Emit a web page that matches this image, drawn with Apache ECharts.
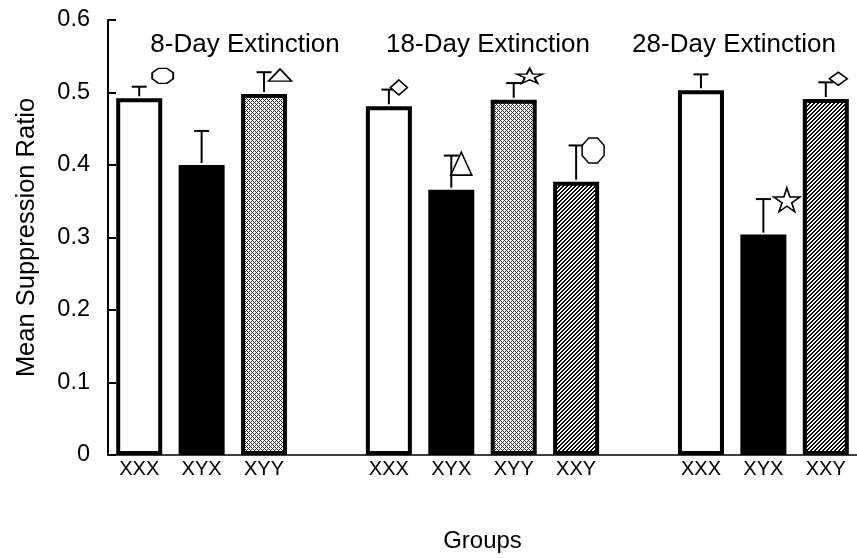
<!DOCTYPE html>
<html>
<head>
<meta charset="utf-8">
<script src="https://cdn.jsdelivr.net/npm/echarts@6/dist/echarts.min.js"></script>
<style>
html,body{margin:0;padding:0;background:#fff;}
#chart{width:857px;height:558px;}
</style>
</head>
<body>
<div id="chart"></div>
<script>
// ---- data ----
var categories = ['XXX','XYX','XYY','','XXX','XYX','XYY','XXY','','XXX','XYX','XXY'];
var means      = [0.492,0.400,0.498,null,0.481,0.366,0.490,0.377,null,0.503,0.304,0.491];
var errors     = [0.016,0.047,0.030,null,0.023,0.047,0.023,0.050,null,0.022,0.049,0.023];
var yTicks     = [0,0.1,0.2,0.3,0.4,0.5,0.6];
var groupTitles = ['8-Day Extinction','18-Day Extinction','28-Day Extinction'];
var markerSlots  = [0,2,4,5,6,7,10,11];
var markerValues = [0.523,0.524,0.507,0.402,0.523,0.420,0.352,0.519];
var markerShapes = ['octagon','triangle','diamond','triangle','star','octagon','star','diamond'];

// ---- styling ----
var FONT = '"Liberation Sans", Arial, Helvetica, sans-serif';
var markerLayout = [ // [dx, w, h]
  [23.5,21,15],[16,23,12],[10,17,15],[10,21,23],[16,26,15],[17,22,25],[23.5,26,24],[12.5,18,13]
];
var shapePaths = {
  octagon: 'path://M30,0 L70,0 L100,30 L100,70 L70,100 L30,100 L0,70 L0,30 Z',
  triangle: 'path://M50,0 L100,100 L0,100 Z',
  diamond: 'path://M50,0 L100,50 L50,100 L0,50 Z',
  star: 'path://M50,0 L61,35 L98,35 L68,57 L79,91 L50,70 L21,91 L32,57 L2,35 L39,35 Z'
};

function pixelPattern(size, isInk, ink){
  var c = document.createElement('canvas'); c.width = size; c.height = size;
  var g = c.getContext('2d');
  var img = g.createImageData(size, size);
  for (var y = 0; y < size; y++) for (var x = 0; x < size; x++) {
    var o = (y * size + x) * 4;
    var v = isInk(x, y) ? ink : 255;
    img.data[o] = v; img.data[o+1] = v; img.data[o+2] = v; img.data[o+3] = 255;
  }
  g.putImageData(img, 0, 0);
  return c;
}
var crossImg = pixelPattern(4, function(x, y){ return (x + y) % 4 === 0 || (x - y + 4) % 4 === 0; }, 40);
var stripeImg = pixelPattern(4, function(x, y){ var m = (x + y) % 4; return m === 0 || m === 1; }, 0);

var fills = {
  'XXX': '#ffffff',
  'XYX': '#000000',
  'XYY': {image: crossImg, repeat: 'repeat'},
  'XXY': {image: stripeImg, repeat: 'repeat'}
};

var barData = means.map(function(v, i){
  if (v === null) return '-';
  return {value: v, itemStyle: {color: fills[categories[i]], borderColor: '#000', borderWidth: 4}};
});
var errData = [];
means.forEach(function(v, i){ if (v !== null) errData.push([i, v, v + errors[i]]); });
var markerData = markerSlots.map(function(s, k){
  var L = markerLayout[k];
  return {value: [s, markerValues[k]], symbol: shapePaths[markerShapes[k]], symbolSize: [L[1], L[2]], symbolOffset: [L[0], 0]};
});

var chart = echarts.init(document.getElementById('chart'), null, {renderer: 'canvas'});
chart.setOption({
  backgroundColor: '#fff',
  animation: false,
  grid: {left: 108, top: 20, width: 750, height: 435},
  xAxis: {
    type: 'category', data: categories,
    name: 'Groups', nameLocation: 'middle', nameGap: 74,
    nameTextStyle: {fontFamily: FONT, fontSize: 24, color: '#000'},
    axisLine: {lineStyle: {color: '#000', width: 1.5}},
    axisTick: {show: false},
    axisLabel: {fontFamily: FONT, fontSize: 20, color: '#000', margin: 4, interval: 0}
  },
  yAxis: {
    type: 'value', min: 0, max: 0.6, interval: 0.1,
    name: 'Mean Suppression Ratio', nameLocation: 'middle', nameGap: 68, nameRotate: 90,
    nameTextStyle: {fontFamily: FONT, fontSize: 25.5, color: '#000'},
    axisLine: {show: true, lineStyle: {color: '#000', width: 2}},
    axisTick: {show: true, inside: true, length: 8, lineStyle: {color: '#000', width: 2}},
    splitLine: {show: false},
    axisLabel: {fontFamily: FONT, fontSize: 23.5, color: '#000', margin: 18,
      formatter: function(v){ var r = yTicks.filter(function(t){return Math.abs(t-v)<1e-9;})[0]; return r === 0 ? '0' : String(r); }}
  },
  series: [
    {type: 'bar', data: barData, barWidth: 46, z: 2},
    {type: 'custom', z: 3, data: errData,
      renderItem: function(params, api){
        var p0 = api.coord([api.value(0), api.value(1)]);
        var p1 = api.coord([api.value(0), api.value(2)]);
        var st = {stroke: '#000', lineWidth: 2};
        return {type: 'group', children: [
          {type: 'line', shape: {x1: p0[0], y1: p0[1] - 2, x2: p1[0], y2: p1[1]}, style: st},
          {type: 'line', shape: {x1: p1[0] - 7.5, y1: p1[1], x2: p1[0] + 7.5, y2: p1[1]}, style: st}
        ]};
      }
    },
    {type: 'scatter', z: 4, data: markerData,
      itemStyle: {color: '#fff', borderColor: '#000', borderWidth: 1.6, opacity: 1}}
  ],
  graphic: [
    {type: 'text', x: 245, y: 45, style: {text: groupTitles[0], font: '26px ' + FONT, fill: '#000', textAlign: 'center', textVerticalAlign: 'middle'}},
    {type: 'text', x: 488, y: 45, style: {text: groupTitles[1], font: '26px ' + FONT, fill: '#000', textAlign: 'center', textVerticalAlign: 'middle'}},
    {type: 'text', x: 734, y: 45, style: {text: groupTitles[2], font: '26px ' + FONT, fill: '#000', textAlign: 'center', textVerticalAlign: 'middle'}}
  ]
});
</script>
</body>
</html>
